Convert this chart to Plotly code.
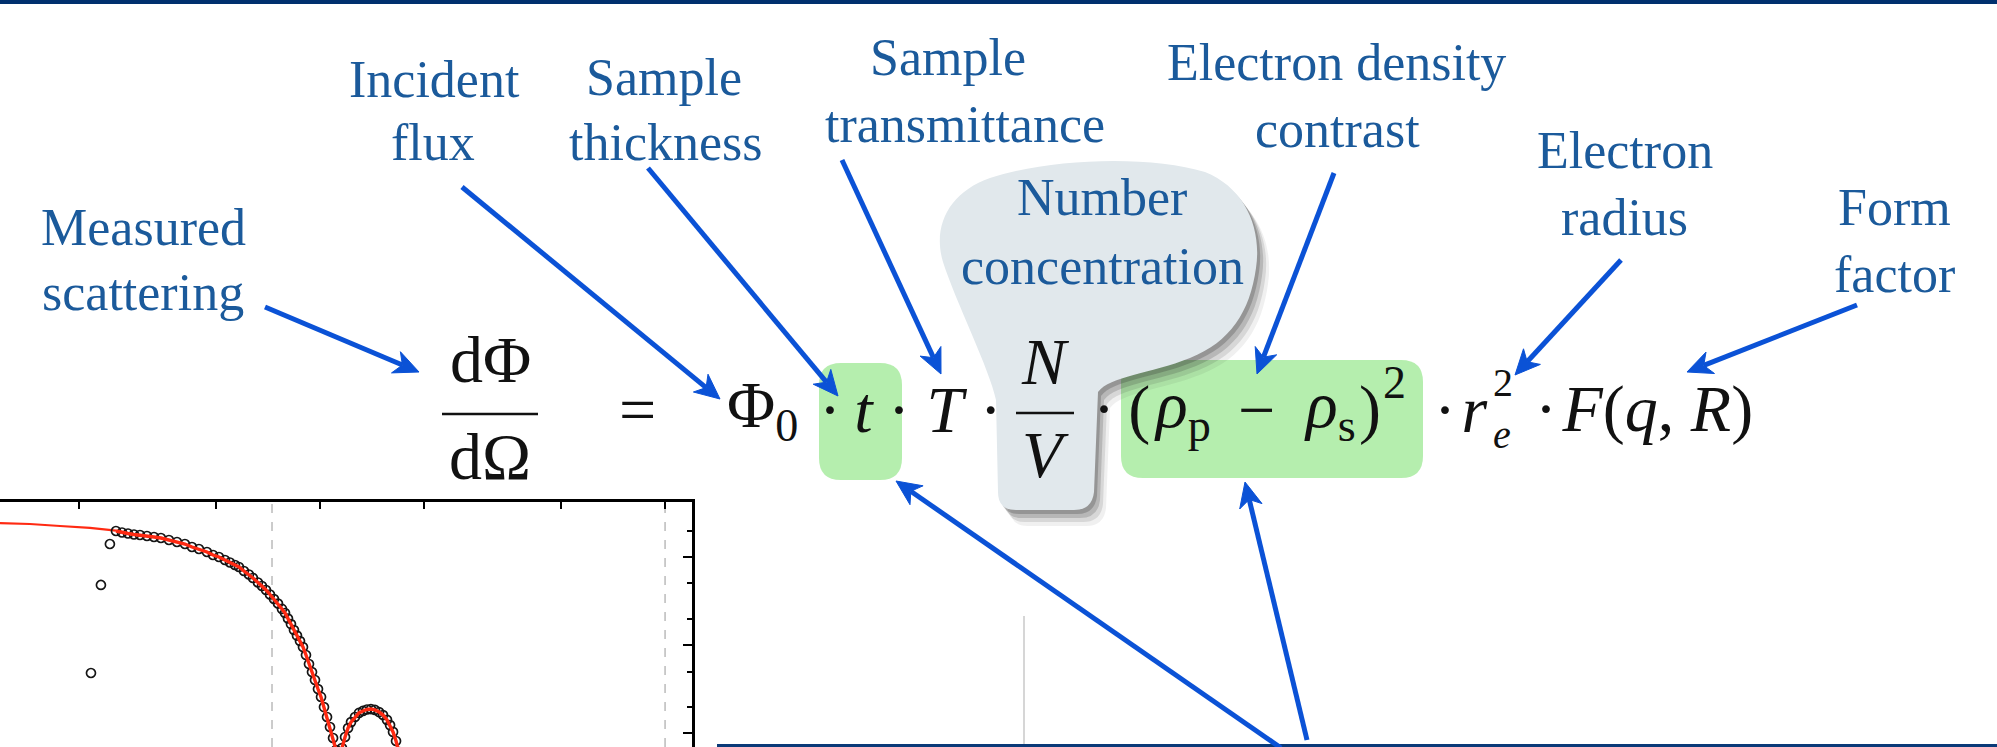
import math
import plotly.graph_objects as go

W, H = 1997, 747
SERIF = "Liberation Serif"
BLUE_TXT = "#1b5a9b"
ARROW = "#0b52d6"

# ---------------- inset data (q in nm^-1, intensity a.u.) ----------------
q_data = [0.02169, 0.02318, 0.02461, 0.02563, 0.02668, 0.02777, 0.02890, 0.03008,
          0.03152, 0.03303, 0.03460, 0.03650, 0.03851, 0.04061, 0.04256, 0.04459,
          0.04704, 0.04897, 0.05096, 0.05303, 0.05483, 0.05669, 0.05823, 0.06020,
          0.06224, 0.06393, 0.06610, 0.06789, 0.06975, 0.07163, 0.07357, 0.07556,
          0.07760, 0.07918, 0.08076, 0.08239, 0.08406, 0.08576, 0.08750, 0.08927,
          0.09107, 0.09292, 0.09480, 0.09672, 0.09867, 0.1007, 0.1027, 0.1048,
          0.1069, 0.1091, 0.1113, 0.1135, 0.1158, 0.1182, 0.1206, 0.1230, 0.1263,
          0.1297, 0.1332, 0.1368, 0.1405, 0.1443, 0.1483, 0.1523, 0.1564, 0.1596,
          0.1628, 0.1661, 0.1694, 0.1729]
I_data = [4.81, 48.1, 140.6, 197.5, 189.8, 184.9, 180.2, 177.8, 173.2, 168.8,
          164.4, 156.1, 148.1, 140.5, 129.9, 123.3, 114.0, 105.4, 100.0, 92.4,
          86.6, 81.1, 77.0, 69.3, 63.3, 57.7, 51.3, 46.8, 42.2, 37.5, 33.3, 29.6,
          25.7, 23.1, 20.0, 17.3, 14.8, 12.8, 11.1, 9.49, 7.70, 6.08, 4.93, 4.00,
          3.16, 2.57, 1.97, 1.52, 1.17, 0.877, 0.641, 0.380, 0.675, 0.901, 1.14,
          1.33, 1.52, 1.69, 1.78, 1.85, 1.87, 1.83, 1.73, 1.60, 1.41, 1.23, 1.03,
          0.811, 0.608, 0.433]
# fit curve: low-q plateau, then follows the data
q_fit_plateau = [0.01182, 0.01443, 0.01764, 0.02154, 0.02563]
I_fit_plateau = [243.0, 237.0, 225.0, 214.0, 199.0]
q_fit = q_data[3:]
I_fit = I_data[3:]

x_tickvals = [0.02, 0.05, 0.1, 0.2, 0.5, 1.0]
y_major_ticks = [1, 10, 100]
y_minor_ticks = [2, 5, 20, 50, 200]
q_limits = [0.0726, 1.0]           # dashed q-range markers

# ---------------- slide texts ----------------
label_texts = ["Measured", "scattering", "Incident", "flux", "Sample", "thickness",
               "Sample", "transmittance", "Electron density", "contrast",
               "Electron", "radius", "Form", "factor", "Number", "concentration"]
label_pos = [(143, 227), (143, 292), (434, 79), (433, 142), (664, 77), (666, 142),
             (948, 57), (965, 124), (1336, 62), (1337, 129), (1625, 150),
             (1624, 217), (1894, 207), (1894, 274), (1102, 197), (1102, 266)]

# arrows: (tail, tip)
arrows = [((265, 307), (419, 372)), ((462, 187), (720, 399)), ((648, 168), (838, 396)),
          ((842, 160), (941, 374)), ((1334, 173), (1257, 374)), ((1621, 260), (1515, 375)),
          ((1857, 305), (1687, 372)), ((1281, 748), (896, 481)), ((1307, 740), (1245, 482))]

fig = go.Figure()

fig.add_trace(go.Scatter(
    x=q_fit_plateau, y=I_fit_plateau, mode="lines", xaxis="x2", yaxis="y2",
    line=dict(color="#ff2a12", width=2.2), showlegend=False, hoverinfo="skip"))
fig.add_trace(go.Scatter(
    x=q_data, y=I_data, mode="markers", xaxis="x2", yaxis="y2",
    marker=dict(symbol="circle-open", size=9, color="#151515", line=dict(width=1.7)),
    showlegend=False, hoverinfo="skip"))
fig.add_trace(go.Scatter(
    x=q_fit, y=I_fit, mode="lines", xaxis="x2", yaxis="y2",
    line=dict(color="#ff2a12", width=3.4), showlegend=False, hoverinfo="skip"))

shapes = []
# top and bottom navy bars
shapes.append(dict(type="rect", xref="x", yref="y", x0=0, x1=W, y0=0, y1=4,
                   fillcolor="#00306e", line=dict(width=0), layer="above"))
shapes.append(dict(type="rect", xref="x", yref="y", x0=717, x1=W, y0=744, y1=747,
                   fillcolor="#0a3a78", line=dict(width=0), layer="above"))
shapes.append(dict(type="line", xref="x", yref="y", x0=1024, x1=1024, y0=616, y1=744,
                   line=dict(color="#c9c9c9", width=1.5)))


def rrect(x0, y0, x1, y1, r):
    return (f"M {x0+r},{y0} L {x1-r},{y0} Q {x1},{y0} {x1},{y0+r} L {x1},{y1-r} "
            f"Q {x1},{y1} {x1-r},{y1} L {x0+r},{y1} Q {x0},{y1} {x0},{y1-r} "
            f"L {x0},{y0+r} Q {x0},{y0} {x0+r},{y0} Z")


GREEN = "#b5eeae"
shapes.append(dict(type="path", xref="x", yref="y", path=rrect(819, 363, 902, 480, 22),
                   fillcolor=GREEN, line=dict(width=0)))
shapes.append(dict(type="path", xref="x", yref="y", path=rrect(1121, 360, 1423, 478, 22),
                   fillcolor=GREEN, line=dict(width=0)))


def bubble(dx=0, dy=0):
    pts = [
        ("M", [(998, 492)]), ("L", [(996, 400)]),
        ("C", [(990, 370), (955, 300), (943, 262)]),
        ("C", [(932, 225), (950, 192), (990, 178)]),
        ("C", [(1050, 158), (1150, 155), (1205, 172)]),
        ("C", [(1245, 188), (1262, 228), (1256, 268)]),
        ("C", [(1250, 312), (1230, 342), (1190, 358)]),
        ("C", [(1150, 374), (1110, 376), (1098, 392)]),
        ("L", [(1094, 492)]),
        ("Q", [(1092, 510), (1074, 510)]),
        ("L", [(1016, 510)]),
        ("Q", [(998, 510), (998, 492)]),
    ]
    s = ""
    for cmd, ps in pts:
        s += cmd + " " + " ".join(f"{x+dx},{y+dy}" for x, y in ps) + " "
    return s + "Z"


for (dx, dy, op) in [(12, 16, 0.07), (9, 12, 0.12), (6, 8, 0.18), (3, 4, 0.24)]:
    shapes.append(dict(type="path", xref="x", yref="y", path=bubble(dx, dy),
                       fillcolor=f"rgba(40,40,40,{op})", line=dict(width=0)))
shapes.append(dict(type="path", xref="x", yref="y", path=bubble(),
                   fillcolor="#e1e8ec", line=dict(width=0)))

# fraction bars
shapes.append(dict(type="line", xref="x", yref="y", x0=442, x1=538, y0=414, y1=414,
                   line=dict(color="#111111", width=2.6)))
shapes.append(dict(type="line", xref="x", yref="y", x0=1016, x1=1074, y0=413, y1=413,
                   line=dict(color="#111111", width=2.6)))

# dashed q-range markers in the inset
for qv in q_limits:
    shapes.append(dict(type="line", xref="x2", yref="paper", x0=qv, x1=qv,
                       y0=0, y1=245 / H, layer="below",
                       line=dict(color="#aaaaaa", width=1.2, dash="dash")))


# arrows as line + stealth head
def arrow_shapes(tail, tip, L=25, hw=11.5, notch=0.72, width=5):
    dx, dy = tip[0] - tail[0], tip[1] - tail[1]
    d = math.hypot(dx, dy)
    ux, uy = dx / d, dy / d
    px, py = -uy, ux
    bx, by = tip[0] - L * ux, tip[1] - L * uy
    nx, ny = tip[0] - L * notch * ux, tip[1] - L * notch * uy
    out = [dict(type="line", xref="x", yref="y", x0=tail[0], y0=tail[1], x1=nx, y1=ny,
                line=dict(color=ARROW, width=width))]
    path = (f"M {tip[0]},{tip[1]} L {bx + hw*px:.1f},{by + hw*py:.1f} "
            f"L {nx:.1f},{ny:.1f} L {bx - hw*px:.1f},{by - hw*py:.1f} Z")
    out.append(dict(type="path", xref="x", yref="y", path=path, fillcolor=ARROW,
                    line=dict(color=ARROW, width=1)))
    return out


for tail, tip in arrows:
    shapes.extend(arrow_shapes(tail, tip))

annotations = []
for txt, (x, y) in zip(label_texts, label_pos):
    annotations.append(dict(x=x, y=y, xref="x", yref="y", text=txt, showarrow=False,
                            xanchor="center", yanchor="middle",
                            font=dict(family=SERIF, size=52, color=BLUE_TXT)))

MF = 66
THIN, HAIR = "\u2009", "\u200a"
# (text, x, y, size, xanchor)
math_parts = [
    ("dΦ", 490, 359, MF, "center"), ("dΩ", 490, 456, MF, "center"),
    ("=", 637, 409, MF, "center"),
    ("Φ<sub>0</sub>", 762, 409, MF, "center"),
    ("·" + THIN + "<i>t</i>", 817, 409, MF, "left"),
    ("· <i>T</i> ·", 945, 409, MF, "center"),
    ("<i>N</i>", 1045, 361, MF, "center"), ("<i>V</i>", 1045, 454, MF, "center"),
    ("·" + THIN + "(", 1091, 409, MF, "left"),
    ("<i>ρ</i><sub>p</sub>", 1182, 409, MF, "center"), ("−", 1256, 409, MF, "center"),
    ("<i>ρ</i><sub>s</sub>", 1330, 409, MF, "center"), (")", 1370, 409, MF, "center"),
    ("2", 1394, 382, 46, "center"),
    ("·" + HAIR + "<i>r</i>", 1432, 409, MF, "left"),
    ("2<br><i>e</i>", 1491, 408, 40, "left"),
    ("·" + HAIR + "<i>F</i>(<i>q</i>, <i>R</i>)", 1533, 409, MF, "left"),
]
for txt, x, y, fs, xa in math_parts:
    annotations.append(dict(x=x, y=y, xref="x", yref="y", text=txt, showarrow=False,
                            xanchor=xa, yanchor="middle", align="left",
                            font=dict(family=SERIF, size=fs, color="#111111")))

fig.update_layout(
    width=W, height=H, margin=dict(l=0, r=0, t=0, b=0),
    paper_bgcolor="white", plot_bgcolor="rgba(0,0,0,0)",
    showlegend=False, shapes=shapes, annotations=annotations,
    xaxis=dict(domain=[0, 1], range=[0, W], visible=False, fixedrange=True),
    yaxis=dict(domain=[0, 1], range=[H, 0], visible=False, fixedrange=True),
    xaxis2=dict(domain=[0, 692 / W], type="log",
                range=[math.log10(0.01182), math.log10(1.197)], anchor="y2", side="top",
                showline=True, linecolor="black", linewidth=2.6, ticks="inside", ticklen=7,
                tickwidth=2, tickcolor="black", tickvals=x_tickvals, showticklabels=False,
                showgrid=False, zeroline=False, fixedrange=True),
    yaxis2=dict(domain=[0, 245 / H], type="log", range=[-0.159, 2.625], anchor="x2",
                side="right", showline=True, linecolor="black", linewidth=2.6,
                ticks="inside", ticklen=9, tickwidth=2, tickcolor="black",
                tickvals=y_major_ticks, showticklabels=False, showgrid=False,
                zeroline=False, fixedrange=True,
                minor=dict(tickvals=y_minor_ticks, ticks="inside", ticklen=5,
                           tickwidth=1.5, tickcolor="black", showgrid=False)),
)

fig.write_html("out.html")
